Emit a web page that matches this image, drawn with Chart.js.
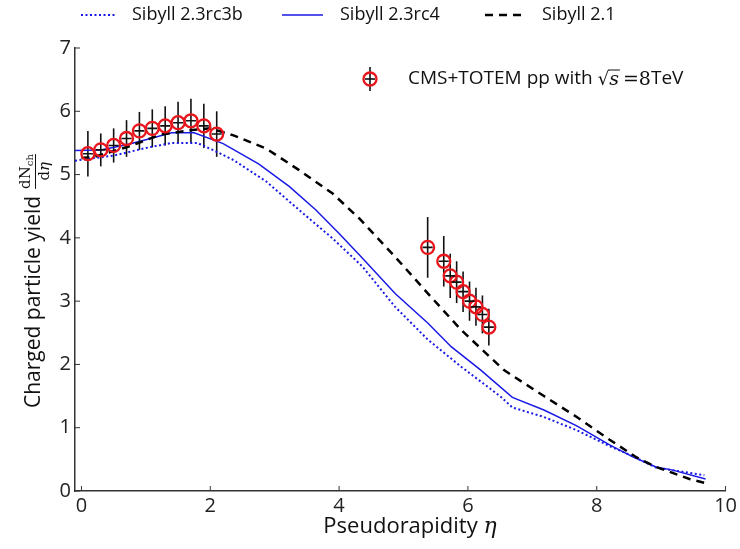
<!DOCTYPE html>
<html>
<head>
<meta charset="utf-8">
<script src="https://cdn.jsdelivr.net/npm/chart.js@4.4.0/dist/chart.umd.min.js"></script>
<style>html,body{margin:0;padding:0;background:#fff}</style>
</head>
<body>
<div style="width:740px;height:549px"><canvas id="chart"></canvas></div>
<script>
// Sibyll 2.3rc3b (dotted)
const rc3bEta   = [-0.1, 0.5, 1.0, 1.4, 1.8, 2.1, 2.36, 2.87, 3.38, 3.9, 4.36, 4.87, 5.38, 5.9, 6.51, 6.69, 7.18, 7.69, 8.2, 8.56, 8.92, 9.67];
const rc3bYield = [5.22, 5.30, 5.42, 5.50, 5.50, 5.36, 5.23, 4.89, 4.44, 3.99, 3.55, 2.91, 2.39, 1.96, 1.49, 1.32, 1.17, 0.96, 0.71, 0.55, 0.37, 0.25];
// Sibyll 2.3rc4 (solid)
const rc4Eta    = [-0.1, 0.3, 0.7, 1.0, 1.4, 1.75, 2.2, 2.75, 3.23, 3.64, 4.0, 4.36, 4.87, 5.38, 5.74, 6.2, 6.69, 7.18, 7.69, 8.2, 8.56, 8.92, 9.18, 9.69];
const rc4Yield  = [5.38, 5.39, 5.47, 5.55, 5.66, 5.66, 5.49, 5.17, 4.81, 4.44, 4.07, 3.68, 3.12, 2.65, 2.28, 1.91, 1.48, 1.28, 1.03, 0.73, 0.54, 0.38, 0.33, 0.19];
// Sibyll 2.1 (dashed)
const s21Eta    = [0.0, 0.2, 0.72, 1.23, 1.69, 2.0, 2.36, 2.87, 3.38, 3.9, 4.31, 4.87, 5.38, 5.9, 6.56, 7.18, 7.69, 8.2, 8.62, 8.92, 9.44, 9.67];
const s21Yield  = [5.26, 5.28, 5.44, 5.63, 5.70, 5.73, 5.62, 5.41, 5.07, 4.70, 4.31, 3.70, 3.12, 2.54, 1.91, 1.50, 1.17, 0.81, 0.53, 0.38, 0.19, 0.13];
// CMS+TOTEM pp 8 TeV
const cmsEta   = [0.1, 0.3, 0.5, 0.7, 0.9, 1.1, 1.3, 1.5, 1.7, 1.9, 2.1, 5.375, 5.625, 5.725, 5.825, 5.925, 6.025, 6.125, 6.225, 6.325];
const cmsYield = [5.33, 5.39, 5.46, 5.57, 5.69, 5.73, 5.77, 5.82, 5.85, 5.77, 5.64, 3.85, 3.63, 3.40, 3.30, 3.15, 3.00, 2.91, 2.79, 2.59];
const cmsErr   = [0.36, 0.26, 0.27, 0.29, 0.30, 0.30, 0.31, 0.33, 0.35, 0.35, 0.36, 0.48, 0.40, 0.35, 0.33, 0.32, 0.31, 0.30, 0.30, 0.29];

const xTicks = [0, 2, 4, 6, 8, 10];
const yTicks = [0, 1, 2, 3, 4, 5, 6, 7];

const BLUE = '#1a1ae6';
const RED = '#e8161c';
const SANS = '"Open Sans", "Noto Sans", sans-serif';
const SERIF = '"DejaVu Serif", "Liberation Serif", serif';

const pts = (xs, ys) => xs.map((x, i) => ({x: x, y: ys[i]}));

const extras = {
  id: 'extras',
  beforeDatasetsDraw(chart) {
    const ctx = chart.ctx, xs = chart.scales.x, ys = chart.scales.y;
    ctx.save();
    ctx.strokeStyle = '#111';
    ctx.lineWidth = 1.6;
    cmsEta.forEach((e, i) => {
      const px = xs.getPixelForValue(e);
      ctx.beginPath();
      ctx.moveTo(px, ys.getPixelForValue(cmsYield[i] - cmsErr[i]));
      ctx.lineTo(px, ys.getPixelForValue(cmsYield[i] + cmsErr[i]));
      ctx.stroke();
    });
    ctx.restore();
  },
  afterDraw(chart) {
    const ctx = chart.ctx, xs = chart.scales.x, ys = chart.scales.y;
    const a = chart.chartArea;
    ctx.save();
    // inward ticks
    ctx.strokeStyle = '#333';
    ctx.lineWidth = 1;
    xTicks.forEach(v => {
      const px = xs.getPixelForValue(v);
      ctx.beginPath(); ctx.moveTo(px, a.bottom); ctx.lineTo(px, a.bottom - 5); ctx.stroke();
    });
    yTicks.forEach(v => {
      const py = ys.getPixelForValue(v);
      ctx.beginPath(); ctx.moveTo(a.left, py); ctx.lineTo(a.left + 5, py); ctx.stroke();
    });

    // top legend
    ctx.textBaseline = 'middle';
    ctx.textAlign = 'left';
    ctx.fillStyle = '#111';
    ctx.font = '18px ' + SANS;
    const ly = 15;
    ctx.lineWidth = 2; ctx.strokeStyle = BLUE; ctx.setLineDash([2, 2.5]);
    ctx.beginPath(); ctx.moveTo(81, ly); ctx.lineTo(116, ly); ctx.stroke();
    ctx.fillText('Sibyll 2.3rc3b', 132, ly);
    ctx.setLineDash([]); ctx.lineWidth = 1.5;
    ctx.beginPath(); ctx.moveTo(282, ly); ctx.lineTo(323, ly); ctx.stroke();
    ctx.fillText('Sibyll 2.3rc4', 340, ly);
    ctx.strokeStyle = '#000'; ctx.lineWidth = 2.5; ctx.setLineDash([8, 6]);
    ctx.beginPath(); ctx.moveTo(485, ly); ctx.lineTo(527, ly); ctx.stroke();
    ctx.setLineDash([]);
    ctx.fillText('Sibyll 2.1', 542, ly);

    // data legend
    const cx = 370, cy = 79;
    ctx.strokeStyle = '#111'; ctx.lineWidth = 1.6;
    ctx.beginPath(); ctx.moveTo(cx, cy - 12); ctx.lineTo(cx, cy + 12); ctx.stroke();
    ctx.beginPath(); ctx.moveTo(cx - 5, cy); ctx.lineTo(cx + 5, cy); ctx.stroke();
    ctx.strokeStyle = RED; ctx.lineWidth = 2.3;
    ctx.beginPath(); ctx.arc(cx, cy, 6.5, 0, Math.PI * 2); ctx.stroke();
    ctx.font = '19px ' + SANS;
    let tx = 408;
    const t1 = 'CMS+TOTEM pp with ';
    ctx.fillText(t1, tx, cy); tx += ctx.measureText(t1).width;
    ctx.font = '18px ' + SERIF;
    ctx.fillText('\u221A', tx, cy + 1); tx += ctx.measureText('\u221A').width;
    ctx.font = 'italic 19px ' + SERIF;
    const sw = ctx.measureText('s').width;
    ctx.fillText('s', tx, cy + 1);
    ctx.lineWidth = 1; ctx.strokeStyle = '#111';
    ctx.beginPath(); ctx.moveTo(tx - 1, cy - 9); ctx.lineTo(tx + sw + 1, cy - 9); ctx.stroke();
    tx += sw + 4;
    ctx.font = '19px ' + SERIF;
    ctx.fillText('=8', tx, cy + 1); tx += ctx.measureText('=8').width;
    ctx.font = '19px ' + SANS;
    ctx.fillText('TeV', tx, cy);

    // x title
    ctx.font = '22px ' + SANS;
    const xt = 'Pseudorapidity ';
    const w1 = ctx.measureText(xt).width;
    ctx.font = 'italic 22px ' + SERIF;
    const w2 = ctx.measureText('\u03B7').width;
    let sx = 410 - (w1 + w2) / 2;
    ctx.textBaseline = 'alphabetic';
    ctx.font = '22px ' + SANS;
    ctx.fillText(xt, sx, 533);
    ctx.font = 'italic 22px ' + SERIF;
    ctx.fillText('\u03B7', sx + w1, 533);

    // y title, rotated
    ctx.translate(34, 275);
    ctx.rotate(-Math.PI / 2);
    ctx.font = '21px ' + SANS;
    ctx.textBaseline = 'middle';
    const yt = 'Charged particle yield';
    const yw = ctx.measureText(yt).width;
    ctx.fillText(yt, -133, 0);
    const fx = -133 + yw + 7;
    ctx.font = '15px ' + SERIF;
    const nw = ctx.measureText('dN').width;
    ctx.font = '10px ' + SERIF;
    const chw = ctx.measureText('ch').width;
    const fw = nw + chw;
    ctx.font = '15px ' + SERIF;
    ctx.fillText('dN', fx, -8);
    ctx.font = '10px ' + SERIF;
    ctx.fillText('ch', fx + nw, -4);
    ctx.font = '15px ' + SERIF;
    const dw = ctx.measureText('d').width;
    ctx.fillText('d', fx + fw / 2 - 9, 11);
    ctx.font = 'italic 15px ' + SERIF;
    ctx.fillText('\u03B7', fx + fw / 2 - 9 + dw, 11);
    ctx.lineWidth = 1; ctx.strokeStyle = '#111';
    ctx.beginPath(); ctx.moveTo(fx, 1.5); ctx.lineTo(fx + fw, 1.5); ctx.stroke();
    ctx.restore();
  }
};

new Chart(document.getElementById('chart'), {
  type: 'scatter',
  data: {
    datasets: [
      {
        label: 'CMS+TOTEM cross',
        data: pts(cmsEta, cmsYield),
        pointStyle: 'line',
        pointRadius: 5,
        borderColor: '#111',
        borderWidth: 1.6,
        showLine: false,
        order: 0
      },
      {
        label: 'CMS+TOTEM pp',
        data: pts(cmsEta, cmsYield),
        pointStyle: 'circle',
        pointRadius: 6.5,
        backgroundColor: 'rgba(0,0,0,0)',
        borderColor: RED,
        borderWidth: 2.3,
        showLine: false,
        order: 1
      },
      {
        label: 'Sibyll 2.3rc3b',
        data: pts(rc3bEta, rc3bYield),
        showLine: true,
        borderColor: BLUE,
        borderWidth: 2,
        borderDash: [2, 2.5],
        pointRadius: 0,
        order: 4
      },
      {
        label: 'Sibyll 2.3rc4',
        data: pts(rc4Eta, rc4Yield),
        showLine: true,
        borderColor: BLUE,
        borderWidth: 1.5,
        pointRadius: 0,
        order: 3
      },
      {
        label: 'Sibyll 2.1',
        data: pts(s21Eta, s21Yield),
        showLine: true,
        borderColor: '#000',
        borderWidth: 2.5,
        borderDash: [8, 6],
        pointRadius: 0,
        order: 2
      }
    ]
  },
  options: {
    responsive: true,
    maintainAspectRatio: false,
    animation: false,
    layout: {padding: {top: 48, right: 9, left: 0, bottom: 0}},
    plugins: {legend: {display: false}, tooltip: {enabled: false}},
    scales: {
      x: {
        type: 'linear',
        min: -0.1,
        max: 10,
        afterBuildTicks: s => { s.ticks = xTicks.map(v => ({value: v})); },
        afterFit: s => { s.height = 58; },
        grid: {display: false, drawTicks: false},
        border: {display: true, color: '#333', width: 1.5},
        ticks: {color: '#222', font: {family: SANS, size: 20}, padding: 3, maxRotation: 0}
      },
      y: {
        type: 'linear',
        min: 0,
        max: 7,
        afterBuildTicks: s => { s.ticks = yTicks.map(v => ({value: v})); },
        afterFit: s => { s.width = 75; },
        grid: {display: false, drawTicks: false},
        border: {display: true, color: '#333', width: 1.5},
        ticks: {color: '#222', font: {family: SANS, size: 20}, padding: 4}
      }
    }
  },
  plugins: [extras]
});
</script>
</body>
</html>
